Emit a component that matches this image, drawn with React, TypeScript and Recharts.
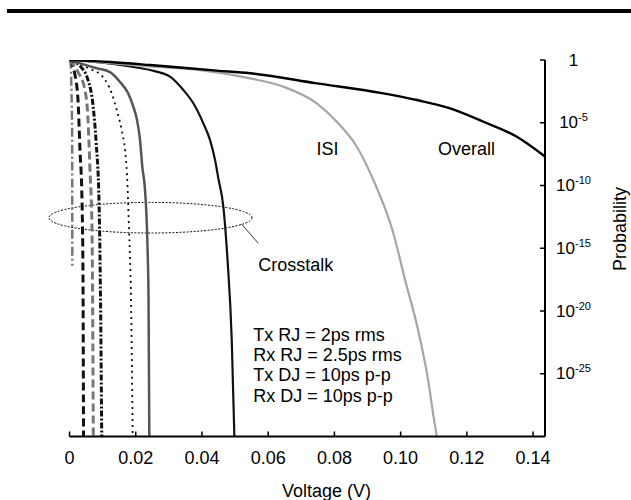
import React from 'react';
import { LineChart, Line, XAxis, YAxis, Customized } from 'recharts';

// each point: [voltage (V), log10(probability)]
const xtalkA: number[][] = [[0, 0], [0.0004, -0.8], [0.0006, -2.5], [0.0008, -6], [0.00085, -16.4]];
const xtalkB: number[][] = [[0, 0], [0.00166, -1.2], [0.00257, -3.2], [0.00317, -7.2], [0.00378, -11.2], [0.00408, -17.5], [0.00423, -30]];
const xtalkC: number[][] = [[0, 0], [0.00257, -0.96], [0.00468, -2.4], [0.00559, -4.8], [0.00619, -8.8], [0.0068, -13.6], [0.00719, -30]];
const xtalkD: number[][] = [[0, 0], [0.00317, -0.48], [0.00559, -1.6], [0.0071, -3.6], [0.008, -6.4], [0.00891, -11.2], [0.00937, -19.1], [0.00973, -30]];
const xtalkE: number[][] = [[0, 0], [0.00559, -0.64], [0.01012, -1.36], [0.01275, -2.66], [0.01426, -3.99], [0.01577, -5.58], [0.01677, -7.18], [0.01737, -9.17], [0.01798, -13.56], [0.01858, -19.1], [0.01909, -30]];
const xtalkF: number[][] = [[0, 0], [0.00822, -0.66], [0.01224, -0.96], [0.01526, -1.75], [0.01767, -2.63], [0.01927, -3.72], [0.02039, -4.78], [0.0213, -6.38], [0.02199, -8.51], [0.02281, -10.37], [0.0235, -14.35], [0.02387, -19.14], [0.02411, -30]];
const xtalkG: number[][] = [[0, 0], [0.00921, -0.2], [0.01828, -0.52], [0.02432, -0.8], [0.03036, -1.33], [0.03438, -2.39], [0.0374, -3.45], [0.04042, -5.05], [0.04245, -6.38], [0.04396, -7.97], [0.04495, -9.43], [0.04647, -11.7], [0.04773, -15.95], [0.049, -22.33], [0.04979, -30]];
const isi: number[][] = [[0, 0], [0.02432, -0.52], [0.03943, -0.8], [0.05453, -1.46], [0.06459, -2.13], [0.07468, -3.45], [0.08073, -4.92], [0.08677, -6.91], [0.09178, -9.57], [0.09782, -13.82], [0.10136, -17.54], [0.10529, -21.53], [0.10831, -25.52], [0.11012, -28.71], [0.11094, -30]];
const overall: number[][] = [[0, 0], [0.01224, -0.16], [0.02432, -0.4], [0.04447, -0.85], [0.05453, -1.06], [0.07468, -1.86], [0.0948, -2.66], [0.1049, -3.19], [0.11495, -3.85], [0.12502, -4.92], [0.1351, -6.12], [0.14366, -7.71]];

const xTicks = [0, 0.02, 0.04, 0.06, 0.08, 0.1, 0.12, 0.14];
const yTicks = [0, -5, -10, -15, -20, -25];
const notes = ['Tx RJ = 2ps rms', 'Rx RJ = 2.5ps rms', 'Tx DJ = 10ps p-p', 'Rx DJ = 10ps p-p'];

const FONT = '"Liberation Sans", Arial, Helvetica, sans-serif';

const toRows = (pts: number[][]) => pts.map(([v, e]) => ({ v, e }));

const series = [
  { data: xtalkA, stroke: '#777', width: 2.5, dash: '9 3 2 3' },
  { data: xtalkB, stroke: '#111', width: 3, dash: '8 4' },
  { data: xtalkC, stroke: '#777', width: 3, dash: '8 4' },
  { data: xtalkD, stroke: '#111', width: 3, dash: '6 2 2 2' },
  { data: xtalkE, stroke: '#111', width: 1.8, dash: '2 4' },
  { data: xtalkF, stroke: '#555', width: 2.5, dash: undefined },
  { data: xtalkG, stroke: '#111', width: 2.2, dash: undefined },
  { data: isi, stroke: '#a6a6a6', width: 2.2, dash: undefined },
  { data: overall, stroke: '#000', width: 2.4, dash: undefined },
];

const XTick = (props: any) => {
  const { x, y, payload } = props;
  const v = payload.value;
  return (
    <g>
      <line x1={x} y1={y} x2={x} y2={y - 5} stroke="#000" strokeWidth={1.5} />
      <text x={x} y={y + 27} textAnchor="middle" fontSize={18} fontFamily={FONT} fill="#000">
        {v === 0 ? '0' : v.toFixed(2)}
      </text>
    </g>
  );
};

const YTick = (props: any) => {
  const { x, y, payload } = props;
  const p = payload.value;
  return (
    <g>
      <line x1={x} y1={y} x2={x - 5} y2={y} stroke="#000" strokeWidth={1.5} />
      {p === 0 ? (
        <text x={x + 28.5} y={y + 5.5} textAnchor="middle" fontSize={17} fontFamily={FONT} fill="#000">1</text>
      ) : (
        <text x={x + 28.5} y={y + 5.5} textAnchor="middle" fontSize={17} fontFamily={FONT} fill="#000">
          <tspan>10</tspan>
          <tspan dy={-7} fontSize={11}>{String(p)}</tspan>
        </text>
      )}
    </g>
  );
};

const Notes = () => (
  <g fontFamily={FONT} fill="#000" fontSize={18}>
    <ellipse cx={150.5} cy={217.7} rx={101.5} ry={15.3} fill="none" stroke="#000" strokeWidth={1} strokeDasharray="2 1.5" />
    <line x1={241.7} y1={224.3} x2={258.3} y2={243.3} stroke="#000" strokeWidth={0.8} />
    <text x={258.3} y={271}>Crosstalk</text>
    <text x={327.5} y={155} textAnchor="middle">ISI</text>
    <text x={438} y={155}>Overall</text>
    {notes.map((t, i) => (
      <text key={t} x={253.3} y={340.6 + i * 20.3}>{t}</text>
    ))}
    <text x={626} y={229} textAnchor="middle" transform="rotate(-90 626 229)">Probability</text>
    <text x={326.5} y={496.5} textAnchor="middle">Voltage (V)</text>
  </g>
);

export default function App() {
  return (
    <div style={{ position: 'relative', width: 631, height: 500 }}>
      <style>{'body{margin:0;overflow:hidden}'}</style>
      <div style={{ position: 'absolute', left: 7, top: 9, width: 624, height: 3.5, background: '#000' }} />
      <LineChart
        width={631}
        height={500}
        margin={{ top: 60, right: 0, left: 69.5, bottom: 0 }}
        style={{ fontFamily: FONT }}
      >
        <XAxis
          type="number"
          dataKey="v"
          domain={[0, 0.1436]}
          ticks={xTicks}
          allowDataOverflow
          height={63.5}
          tickSize={0}
          tickMargin={0}
          tickLine={false}
          axisLine={{ stroke: '#000', strokeWidth: 2 }}
          tick={<XTick />}
          interval={0}
        />
        <YAxis
          type="number"
          dataKey="e"
          orientation="right"
          domain={[-30, 0]}
          ticks={yTicks}
          allowDataOverflow
          width={86}
          tickSize={0}
          tickMargin={0}
          tickLine={false}
          axisLine={{ stroke: '#000', strokeWidth: 2 }}
          tick={<YTick />}
          interval={0}
        />
        {series.map((s, i) => (
          <Line
            key={i}
            data={toRows(s.data)}
            dataKey="e"
            type="monotone"
            stroke={s.stroke}
            strokeWidth={s.width}
            strokeDasharray={s.dash}
            dot={false}
            activeDot={false}
            isAnimationActive={false}
          />
        ))}
        <Customized component={<Notes />} />
      </LineChart>
    </div>
  );
}
